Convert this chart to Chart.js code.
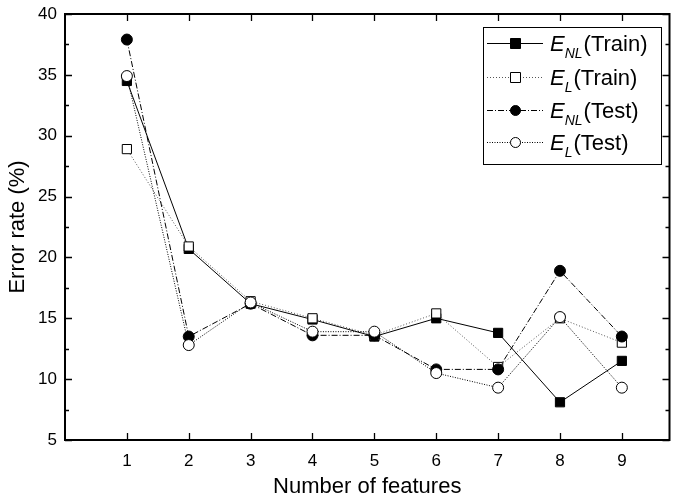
<!DOCTYPE html>
<html>
<head>
<meta charset="utf-8">
<script src="https://cdn.jsdelivr.net/npm/chart.js@4/dist/chart.umd.min.js"></script>
<style>
  html, body { margin: 0; padding: 0; background: #fff; }
  #wrap { width: 677px; height: 498px; position: relative; }
</style>
</head>
<body>
<div id="wrap"><canvas id="c" width="677" height="498"></canvas></div>
<script>
// Error rate (%) against number of selected features
const features = [1, 2, 3, 4, 5, 6, 7, 8, 9];
const eNLTrain = [34.5, 20.7, 16.2, 14.9, 13.5, 15.0, 13.8, 8.1, 11.5];
const eLTrain  = [28.9, 20.9, 16.4, 15.0, 13.6, 15.4, 11.0, 15.0, 13.0];
const eNLTest  = [37.9, 13.5, 16.2, 13.6, 13.6, 10.8, 10.8, 18.9, 13.5];
const eLTest   = [34.9, 12.8, 16.3, 13.9, 13.9, 10.5, 9.3, 15.1, 9.3];
const xTicks = [1, 2, 3, 4, 5, 6, 7, 8, 9];
const yTicks = [5, 10, 15, 20, 25, 30, 35, 40];

const FONT = '"Liberation Sans", Arial, sans-serif';

const series = [
  { sub: 'NL', tag: '(Train)', data: eNLTrain, style: 'rect',   fill: '#000', dash: [],            color: '#000', order: 4 },
  { sub: 'L',  tag: '(Train)', data: eLTrain,  style: 'rect',   fill: '#fff', dash: [1, 2],        color: '#555', order: 3 },
  { sub: 'NL', tag: '(Test)',  data: eNLTest,  style: 'circle', fill: '#000', dash: [6, 2, 1, 2],  color: '#000', order: 2 },
  { sub: 'L',  tag: '(Test)',  data: eLTest,   style: 'circle', fill: '#fff', dash: [1, 1.5],      color: '#000', order: 1 }
];

// inward tick marks on all four sides, plus the frame
const frameTicks = {
  id: 'frameTicks',
  afterDraw(chart) {
    const { ctx, chartArea: a, scales: { x, y } } = chart;
    ctx.save();
    ctx.strokeStyle = '#000';
    ctx.lineWidth = 1.3;
    ctx.beginPath();
    xTicks.forEach(v => {
      const px = Math.round(x.getPixelForValue(v)) + 0.5;
      ctx.moveTo(px, a.bottom); ctx.lineTo(px, a.bottom - 7);
      ctx.moveTo(px, a.top); ctx.lineTo(px, a.top + 7);
    });
    for (let v = 5; v <= 40; v += 2.5) {
      const py = Math.round(y.getPixelForValue(v)) + 0.5;
      const len = (v % 5 === 0) ? 7 : 4;
      ctx.moveTo(a.left, py); ctx.lineTo(a.left + len, py);
      ctx.moveTo(a.right, py); ctx.lineTo(a.right - len, py);
    }
    ctx.stroke();
    ctx.lineWidth = 2;
    ctx.strokeRect(a.left, a.top, a.right - a.left, a.bottom - a.top);
    ctx.restore();
  }
};

// legend box with subscripted series names
const subLegend = {
  id: 'subLegend',
  afterDraw(chart) {
    const ctx = chart.ctx;
    const bx = 483, by = 27, bw = 178, bh = 137;
    ctx.save();
    ctx.fillStyle = '#fff';
    ctx.fillRect(bx, by, bw, bh);
    ctx.strokeStyle = '#000';
    ctx.lineWidth = 1;
    ctx.strokeRect(bx + 0.5, by + 0.5, bw, bh);
    const rows = [43, 77, 110, 142];
    series.forEach((s, i) => {
      const cy = rows[i] + 0.5;
      ctx.strokeStyle = s.color;
      ctx.lineWidth = 1;
      ctx.setLineDash(s.dash);
      ctx.beginPath();
      ctx.moveTo(487, cy); ctx.lineTo(543, cy);
      ctx.stroke();
      ctx.setLineDash([]);
      ctx.fillStyle = s.fill;
      ctx.strokeStyle = '#000';
      ctx.beginPath();
      if (s.style === 'rect') {
        ctx.rect(510.5, cy - 5, 10, 10);
      } else {
        ctx.arc(515.5, cy, 5, 0, Math.PI * 2);
      }
      ctx.fill();
      ctx.stroke();
      ctx.fillStyle = '#000';
      ctx.textBaseline = 'alphabetic';
      ctx.textAlign = 'left';
      ctx.font = 'italic 22px ' + FONT;
      const base = cy + 7.5;
      ctx.fillText('E', 550, base);
      let tx = 550 + ctx.measureText('E').width;
      ctx.font = 'italic 14px ' + FONT;
      ctx.fillText(s.sub, tx, base + 7);
      tx += ctx.measureText(s.sub).width + 1;
      ctx.font = '22px ' + FONT;
      ctx.fillText(s.tag, tx, base);
    });
    ctx.restore();
  }
};

const datasets = series.map(s => ({
  label: 'E' + s.sub + ' ' + s.tag,
  data: features.map((f, i) => ({ x: f, y: s.data[i] })),
  borderColor: s.color,
  borderWidth: 1,
  borderDash: s.dash,
  pointStyle: s.style,
  pointRadius: s.style === 'rect' ? 6.5 : 5.5,
  pointBackgroundColor: s.fill,
  pointBorderColor: '#000',
  pointBorderWidth: 1,
  tension: 0,
  order: s.order
}));

new Chart(document.getElementById('c'), {
  type: 'line',
  data: { datasets },
  options: {
    responsive: false,
    animation: false,
    layout: { padding: { left: 0, right: 7, top: 14, bottom: 0 } },
    plugins: { legend: { display: false }, tooltip: { enabled: false } },
    scales: {
      x: {
        type: 'linear',
        min: 0,
        max: 9.77,
        afterBuildTicks: sc => { sc.ticks = xTicks.map(v => ({ value: v })); },
        afterFit: sc => { sc.height = 58; },
        grid: { display: false },
        border: { display: false },
        ticks: { color: '#000', font: { family: FONT, size: 17 }, padding: 3, maxRotation: 0 },
        title: { display: true, text: 'Number of features', color: '#000', font: { family: FONT, size: 22 }, padding: { top: 0, bottom: -2 } }
      },
      y: {
        min: 5,
        max: 40,
        afterBuildTicks: sc => { sc.ticks = yTicks.map(v => ({ value: v })); },
        afterFit: sc => { sc.width = 65; },
        grid: { display: false },
        border: { display: false },
        ticks: { color: '#000', font: { family: FONT, size: 17 }, padding: 0 },
        title: { display: true, text: 'Error rate (%)', color: '#000', font: { family: FONT, size: 22 }, padding: 5 }
      }
    }
  },
  plugins: [frameTicks, subLegend]
});
</script>
</body>
</html>
